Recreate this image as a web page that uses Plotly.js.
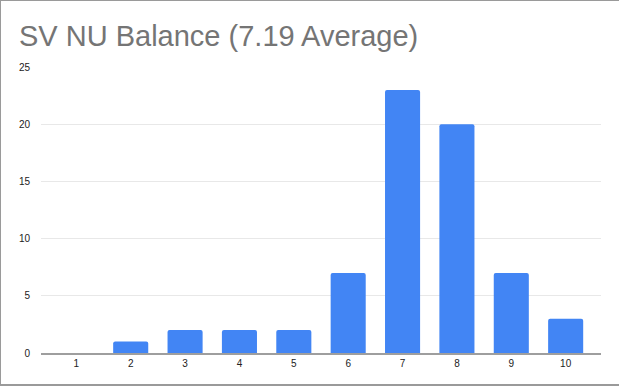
<!DOCTYPE html>
<html>
<head>
<meta charset="utf-8">
<script src="https://cdn.plot.ly/plotly-3.0.1.min.js"></script>
<style>
html,body{margin:0;padding:0;background:#fff;}
#wrap{position:relative;width:619px;height:387px;overflow:hidden;}
#chart{width:619px;height:387px;}
#border{position:absolute;left:0;top:0;width:619px;height:386px;box-sizing:border-box;border:1px solid #9a9a9a;border-right:none;border-bottom:2px solid #9a9a9a;pointer-events:none;}
</style>
</head>
<body>
<div id="wrap"><div id="chart"></div><div id="border"></div></div>
<script>
const categories = ["1","2","3","4","5","6","7","8","9","10"];
const counts = [0,1,2,2,2,7,23,20,7,3];
const yTicks = [0,5,10,15,20,25];
const titleText = "SV NU Balance (7.19 Average)";

const trace = {
  type: "bar",
  x: categories,
  y: counts,
  marker: {color: "#4285f4"},
  hoverinfo: "x+y"
};

const layout = {
  width: 619,
  height: 387,
  margin: {l: 41, r: 18, t: 67, b: 34},
  paper_bgcolor: "#ffffff",
  plot_bgcolor: "#ffffff",
  font: {family: "Arial, 'Liberation Sans', sans-serif", color: "#222222", size: 10},
  title: {
    text: titleText,
    font: {family: "Arial, 'Liberation Sans', sans-serif", size: 29, color: "#757575"},
    xref: "container", yref: "container",
    x: 19/619, xanchor: "left",
    y: 1 - 36/387, yanchor: "middle"
  },
  bargap: 0.355,
  barcornerradius: 2,
  showlegend: false,
  xaxis: {
    type: "category",
    range: [-0.65, 9.65],
    showgrid: false,
    zeroline: false,
    showline: true,
    linecolor: "#9e9e9e",
    linewidth: 1.5,
    ticks: "",
    tickfont: {size: 10, color: "#222222"},
    fixedrange: true
  },
  yaxis: {
    range: [0, 25],
    tickvals: yTicks,
    ticktext: yTicks.map(String),
    showgrid: true,
    gridcolor: "#e8e8e8",
    gridwidth: 1,
    zeroline: false,
    showline: false,
    ticks: "outside",
    ticklen: 8,
    tickcolor: "rgba(0,0,0,0)",
    tickfont: {size: 10, color: "#222222"},
    fixedrange: true
  }
};

Plotly.newPlot("chart", [trace], layout, {displayModeBar: false, staticPlot: true});
</script>
</body>
</html>
